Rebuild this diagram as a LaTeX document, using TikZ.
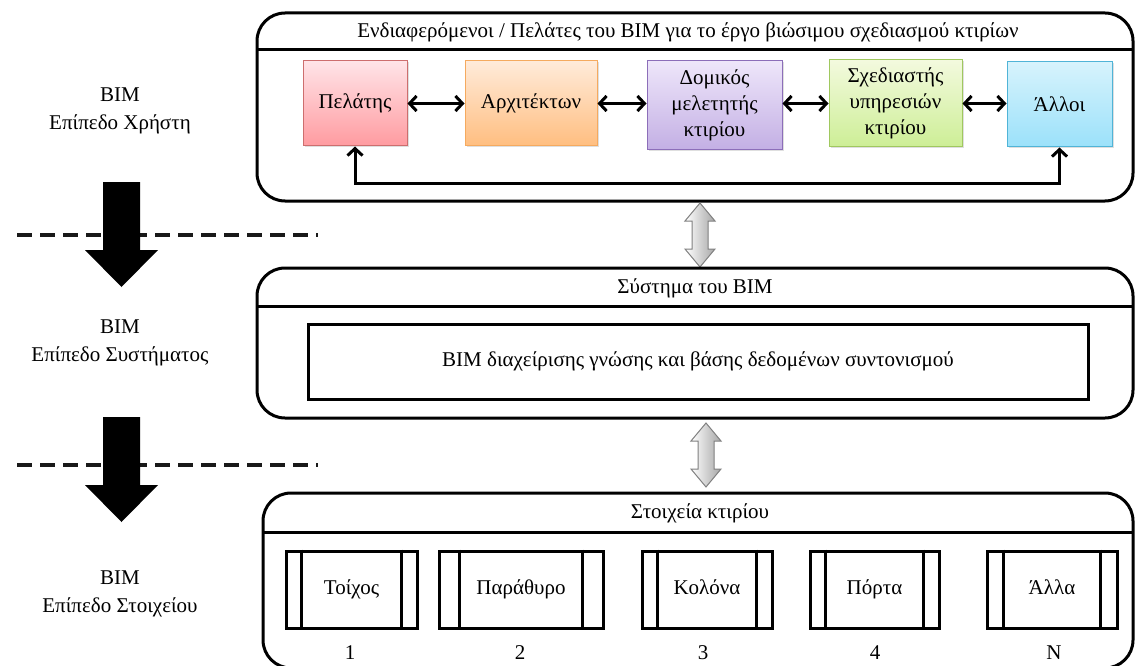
\documentclass[tikz,border=0pt]{standalone}
\usepackage{fontspec}
\setmainfont{Liberation Serif}
\usetikzlibrary{arrows.meta,shadows}
\definecolor{pinkT}{RGB}{255,228,232}\definecolor{pinkB}{RGB}{255,155,160}\definecolor{pinkD}{RGB}{205,110,110}
\definecolor{orT}{RGB}{255,235,218}\definecolor{orB}{RGB}{255,190,128}\definecolor{orD}{RGB}{245,170,95}
\definecolor{puT}{RGB}{238,230,250}\definecolor{puB}{RGB}{195,175,228}\definecolor{puD}{RGB}{140,110,185}
\definecolor{grT}{RGB}{243,250,222}\definecolor{grB}{RGB}{205,238,150}\definecolor{grD}{RGB}{160,200,95}
\definecolor{blT}{RGB}{215,243,252}\definecolor{blB}{RGB}{155,225,250}\definecolor{blD}{RGB}{80,180,215}
\tikzset{
  txt/.style={font=\fontsize{21}{28}\selectfont, align=center, inner sep=0pt},
  container/.style={draw, line width=3pt, rounded corners=28pt, minimum width=#1, inner sep=0pt},
  colbox/.style={draw, line width=1pt, inner sep=2pt, align=center, font=\fontsize{21}{26}\selectfont,
     drop shadow={shadow xshift=1.5pt, shadow yshift=-1.5pt, opacity=0.25}},
  elbox/.style={draw, line width=3pt, inner sep=0pt, text height=15pt, text depth=5pt, font=\fontsize{21}{24}\selectfont},
  biarrow/.style={line width=3pt, {Straight Barb[length=7pt,width=15pt]}-{Straight Barb[length=7pt,width=15pt]}},
  hdr/.style={line width=3pt},
  dashline/.style={line width=4pt, dash pattern=on 15pt off 8pt, black!90},
  grayarrow/.style={left color=white, right color=black!35, draw=black!50, line width=1pt},
}
\begin{document}
\begin{tikzpicture}[x=1pt,y=-1pt]
\useasboundingbox (0,0) rectangle (1135,666);
\clip (0,0) rectangle (1135,666);
% left labels
\node[txt] (l1) at (120,111) {BIM\\Επίπεδο Χρήστη};
\node[txt] (l2) at (120,343) {BIM\\Επίπεδο Συστήματος};
\node[txt] (l3) at (120,594) {BIM\\Επίπεδο Στοιχείου};
% dashed lines
\coordinate (d1a) at (17,235); \coordinate (d1b) at (318,235);
\coordinate (d2a) at (17,465); \coordinate (d2b) at (318,465);
\draw[dashline] (d1a) -- (d1b);
\draw[dashline] (d2a) -- (d2b);
% big black arrows
\fill (103,182) -- (140,182) -- (140,250) -- (158,250) -- (121.5,287) -- (85,250) -- (103,250) -- cycle;
\fill (103,417) -- (140,417) -- (140,485) -- (158,485) -- (121.5,522) -- (85,485) -- (103,485) -- cycle;
% top container
\node[container=876pt, minimum height=188pt] (top) at (695,107) {};
\draw[hdr] (257,50) -- (1133,50);
\node[txt] (toptitle) at (688,32) {Ενδιαφερόμενοι / Πελάτες του BIM για το έργο βιώσιμου σχεδιασμού κτιρίων};
\node[colbox, top color=pinkT, bottom color=pinkB, draw=pinkD, minimum width=104pt, minimum height=85pt] (p) at (355,103.5) {Πελάτης};
\node[colbox, top color=orT, bottom color=orB, draw=orD, minimum width=132pt, minimum height=85pt] (a) at (531,103.5) {Αρχιτέκτων};
\node[colbox, top color=puT, bottom color=puB, draw=puD, minimum width=135pt, minimum height=89pt] (d) at (714.5,105.5) {Δομικός\\μελετητής\\κτιρίου};
\node[colbox, top color=grT, bottom color=grB, draw=grD, minimum width=133pt, minimum height=87pt] (s) at (895.5,103.5) {Σχεδιαστής\\υπηρεσιών\\κτιρίου};
\node[colbox, top color=blT, bottom color=blB, draw=blD, minimum width=105pt, minimum height=85pt] (o) at (1059.5,104.5) {Άλλοι};
\draw[biarrow] (p.east) -- (p.east -| a.west);
\draw[biarrow] (a.east) -- (a.east -| d.west);
\draw[biarrow] (s.west -| d.east) -- (s.west);
\draw[biarrow] (s.east) -- (s.east -| o.west);
\draw[biarrow] (p.south) -- ++(0,37) -| (o.south);
% gray arrows
\shade[grayarrow] (700,203) -- (715,221) -- (708,221) -- (708,249) -- (715,249) -- (700,267) -- (685,249) -- (692,249) -- (692,221) -- (685,221) -- cycle;
\shade[grayarrow] (706,423) -- (721,441) -- (714,441) -- (714,469) -- (721,469) -- (706,487) -- (691,469) -- (698,469) -- (698,441) -- (691,441) -- cycle;
% middle container
\node[container=876pt, minimum height=150pt] (mid) at (695,343) {};
\draw[hdr] (257,306) -- (1133,306);
\node[txt] (midtitle) at (695,288) {Σύστημα του BIM};
\node[elbox, minimum width=780pt, minimum height=75pt] (db) at (698,361.5) {BIM διαχείρισης γνώσης και βάσης δεδομένων συντονισμού};
% bottom container
\node[container=870pt, minimum height=175pt] (bot) at (698,580.5) {};
\draw[hdr] (263,532) -- (1133,532);
\node[txt] (bottitle) at (700,513) {Στοιχεία κτιρίου};
\node[elbox, minimum width=131pt, minimum height=77pt] (e1) at (351.5,589.5) {Τοίχος};
\node[elbox, minimum width=164pt, minimum height=77pt] (e2) at (521,589.5) {Παράθυρο};
\node[elbox, minimum width=130pt, minimum height=77pt] (e3) at (707,589.5) {Κολόνα};
\node[elbox, minimum width=129pt, minimum height=77pt] (e4) at (874.5,589.5) {Πόρτα};
\node[elbox, minimum width=130pt, minimum height=77pt] (e5) at (1052,589.5) {Άλλα};
\foreach \n/\s in {e1/17,e2/22,e3/17,e4/17,e5/18}{
  \draw[line width=3pt] ([xshift=\s pt]\n.north west) -- ([xshift=\s pt]\n.south west);
  \draw[line width=3pt] ([xshift=-\s pt]\n.north east) -- ([xshift=-\s pt]\n.south east);
}
\node[txt] (n1) at (350,653) {1};
\node[txt] (n2) at (520,653) {2};
\node[txt] (n3) at (703,653) {3};
\node[txt] (n4) at (875,653) {4};
\node[txt] (n5) at (1054,653) {N};
\end{tikzpicture}
\end{document}
